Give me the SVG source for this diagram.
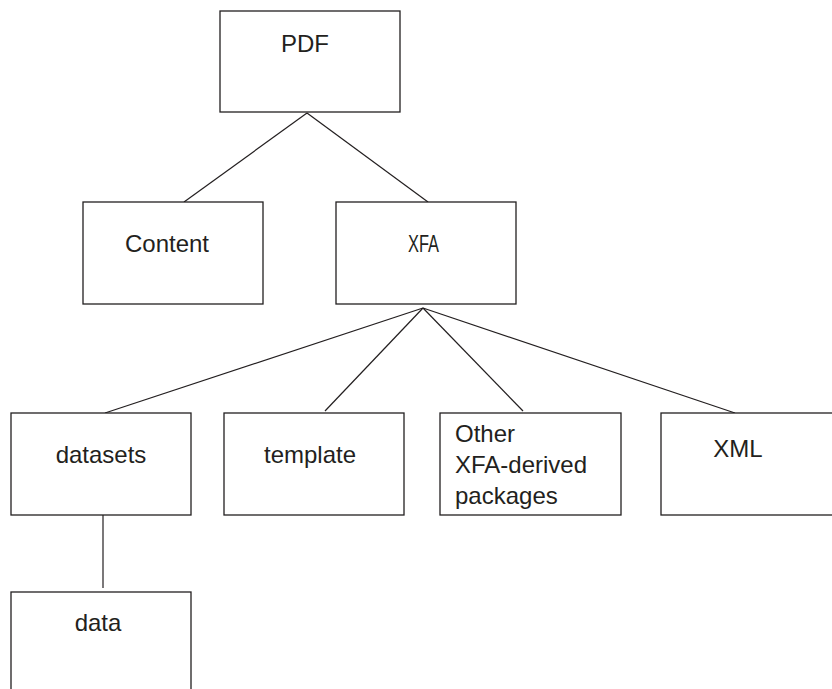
<svg xmlns="http://www.w3.org/2000/svg" width="832" height="689" viewBox="0 0 832 689">
  <style>
    .box { fill: #ffffff; stroke: #231f20; stroke-width: 1.3; }
    .link { stroke: #231f20; stroke-width: 1.2; fill: none; }
    .label { font-family: "Liberation Sans", Arial, sans-serif; font-size: 24px; fill: #231f20; }
  </style>
  <rect width="832" height="689" fill="#ffffff"/>

  <!-- tree connectors -->
  <g id="connectors">
    <line class="link" x1="307" y1="113" x2="184" y2="202"/>
    <line class="link" x1="307" y1="113" x2="428" y2="202"/>
    <line class="link" x1="423" y1="308" x2="105" y2="413"/>
    <line class="link" x1="423" y1="308" x2="325" y2="411"/>
    <line class="link" x1="423" y1="308" x2="523" y2="411"/>
    <line class="link" x1="423" y1="308" x2="735" y2="413"/>
    <line class="link" x1="103" y1="515" x2="103" y2="588"/>
  </g>

  <g id="pdf">
    <rect class="box" x="220" y="11" width="180" height="101"/>
    <text class="label" x="305" y="52" text-anchor="middle">PDF</text>
  </g>

  <g id="content">
    <rect class="box" x="83" y="202" width="180" height="102"/>
    <text class="label" x="167" y="252" text-anchor="middle">Content</text>
  </g>

  <g id="xfa">
    <rect class="box" x="336" y="202" width="180" height="102"/>
    <text class="label" x="408" y="252" font-size="21" textLength="31" lengthAdjust="spacingAndGlyphs">XFA</text>
  </g>

  <g id="datasets">
    <rect class="box" x="11" y="413" width="180" height="102"/>
    <text class="label" x="101" y="463" text-anchor="middle">datasets</text>
  </g>

  <g id="template">
    <rect class="box" x="224" y="413" width="180" height="102"/>
    <text class="label" x="310" y="463" text-anchor="middle">template</text>
  </g>

  <g id="other-packages">
    <rect class="box" x="440" y="413" width="181" height="102"/>
    <text class="label" x="455" y="442">Other</text>
    <text class="label" x="455" y="473">XFA-derived</text>
    <text class="label" x="455" y="504">packages</text>
  </g>

  <g id="xml">
    <rect class="box" x="661" y="413" width="180" height="102"/>
    <text class="label" x="738" y="457" text-anchor="middle">XML</text>
  </g>

  <g id="data">
    <rect class="box" x="11" y="592" width="180" height="110"/>
    <text class="label" x="98" y="631" text-anchor="middle">data</text>
  </g>
</svg>
